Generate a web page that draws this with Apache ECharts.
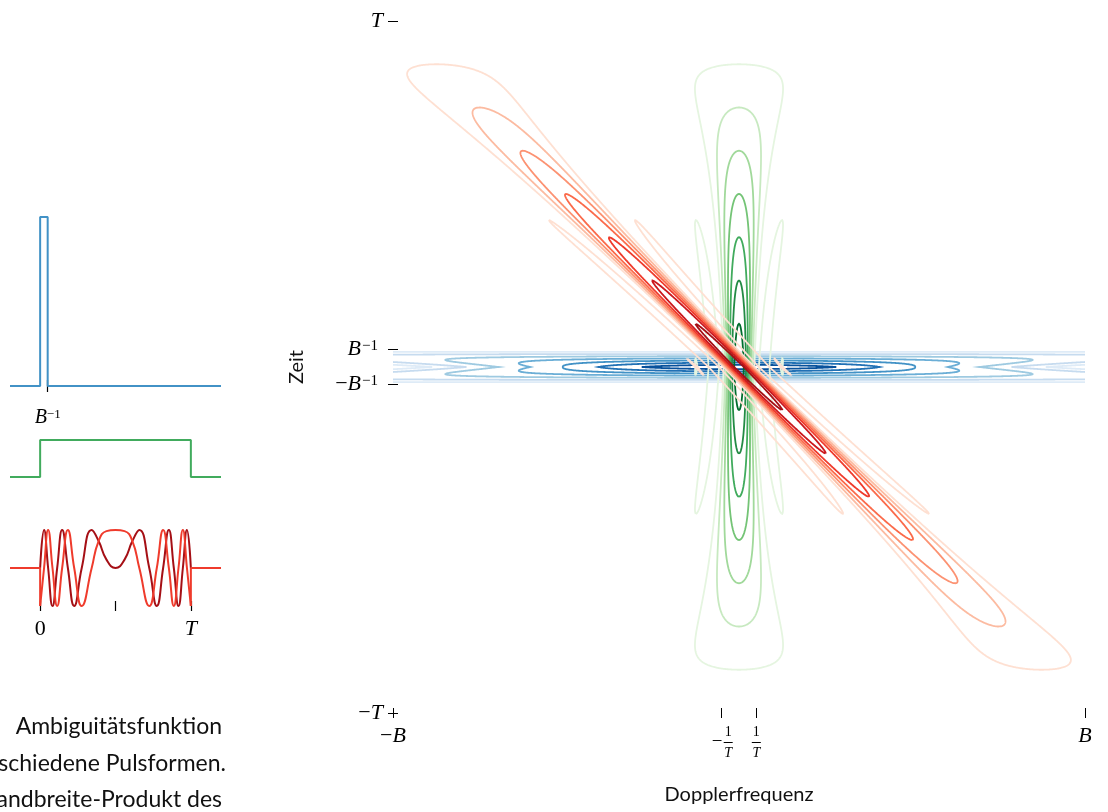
<!DOCTYPE html>
<html>
<head>
<meta charset="utf-8">
<script src="https://cdn.jsdelivr.net/npm/echarts@6/dist/echarts.min.js"></script>
<style>
html, body { margin: 0; padding: 0; background: #fff; }
#chart { width: 1108px; height: 812px; }
</style>
</head>
<body>
<div id="chart"></div>
<script>
// B*T: B lies 20x further out than 1/T on the Doppler axis
const TBP = 20;
const LEVELS = [0.125, 0.25, 0.375, 0.5, 0.625, 0.75, 0.875];
const BLUES = ['#deebf7', '#c6dbef', '#9ecae1', '#6baed6', '#4292c6', '#2171b5', '#08519c'];
const GREENS = ['#e5f5e0', '#c7e9c0', '#a1d99b', '#74c476', '#41ab5d', '#238b45', '#006d2c'];
const REDS = ['#fee0d2', '#fcbba1', '#fc9272', '#fb6a4a', '#ef3b2c', '#cb181d', '#a50f15'];

const DOPPLER_TICKS = [-20, -1, 1, 20];   // -B, -1/T, 1/T, B  (units of 1/T)
const TIME_TICKS = [-1, -0.05, 0.05, 1];  // -T, -1/B, 1/B, T  (units of T)

// pulse shapes (time in units of T)
const SHORT_X = [-0.2, 0, 0, 0.05, 0.05, 1.2];
const SHORT_Y = [0, 0, 4.47, 4.47, 0, 0];
const RECT_X = [-0.2, 0, 0, 1, 1, 1.2];
const RECT_Y = [0, 0, 1, 1, 0, 0];
// chirp: extrema / zero crossings
const CHIRP_U = [0, 0.026, 0.053, 0.082, 0.113, 0.146, 0.184, 0.226, 0.276, 0.342, 0.388, 0.44, 0.5,
  0.56, 0.612, 0.658, 0.724, 0.774, 0.816, 0.854, 0.887, 0.918, 0.947, 0.974, 1];
const CHIRP_RE = [-1, 0, 1, 0, -1, 0, 1, 0, -1, 0, 0.71, 0.97, 1, 0.97, 0.71, 0, -1, 0, 1, 0, -1, 0, 1, 0, -1];
const CHIRP_IM = [0, 1, 0, -1, 0, 1, 0, -1, 0, 1, 0.71, 0.22, 0, 0.22, 0.71, 1, 0, -1, 0, 1, 0, -1, 0, 1, 0];

const MATH = 'Liberation Serif';
const SANS = 'Lato';

function zip(xs, ys) { return xs.map((x, i) => [x, ys[i]]); }

function sinc(x) {
	if (Math.abs(x) < 1e-12) return 1;
	const p = Math.PI * x;
	return Math.sin(p) / p;
}

// |ambiguity| of the three pulses, f = nu*T, t = tau/T
const ambShort = (f, t) => {
	const w = 1 / TBP, a = 1 - Math.abs(t) / w;
	return a <= 0 ? 0 : a * Math.abs(sinc(f * (w - Math.abs(t))));
};
const ambRect = (f, t) => {
	const a = 1 - Math.abs(t);
	return a <= 0 ? 0 : a * Math.abs(sinc(f * a));
};
const ambChirp = (f, t) => {
	const a = 1 - Math.abs(t);
	return a <= 0 ? 0 : a * Math.abs(sinc((f + TBP * t) * a));
};

function steps(a, b, n) {
	const out = [];
	for (let i = 0; i < n; i++) out.push(a + (b - a) * i / (n - 1));
	return out;
}

function sample(fn, xs, ys) {
	const v = new Float64Array(xs.length * ys.length);
	for (let j = 0; j < ys.length; j++)
		for (let i = 0; i < xs.length; i++) v[j * xs.length + i] = fn(xs[i], ys[j]);
	return v;
}

// marching squares, segments chained into polylines
function trace(vals, xs, ys, level) {
	const nx = xs.length, ny = ys.length;
	const adj = new Map();
	const link = (p, q) => {
		if (!adj.has(p)) adj.set(p, []);
		if (!adj.has(q)) adj.set(q, []);
		adj.get(p).push(q);
		adj.get(q).push(p);
	};
	for (let j = 0; j < ny - 1; j++) {
		for (let i = 0; i < nx - 1; i++) {
			const k = j * nx + i;
			const a = vals[k], b = vals[k + 1], c = vals[k + nx + 1], d = vals[k + nx];
			const A = a >= level, B = b >= level, C = c >= level, D = d >= level;
			if (A === B && B === C && C === D) continue;
			const e0 = k * 2, e1 = (k + 1) * 2 + 1, e2 = (k + nx) * 2, e3 = k * 2 + 1;
			const cr = [];
			if (A !== B) cr.push(e0);
			if (B !== C) cr.push(e1);
			if (C !== D) cr.push(e2);
			if (D !== A) cr.push(e3);
			if (cr.length === 2) {
				link(cr[0], cr[1]);
			} else {
				const mid = (a + b + c + d) / 4 >= level;
				if (A === mid) { link(e0, e1); link(e2, e3); }
				else { link(e0, e3); link(e1, e2); }
			}
		}
	}
	const pt = id => {
		const k = id >> 1, i = k % nx, j = (k - i) / nx;
		if ((id & 1) === 0) {
			const s = (level - vals[k]) / (vals[k + 1] - vals[k]);
			return [xs[i] + s * (xs[i + 1] - xs[i]), ys[j]];
		}
		const s = (level - vals[k]) / (vals[k + nx] - vals[k]);
		return [xs[i], ys[j] + s * (ys[j + 1] - ys[j])];
	};
	const walk = start => {
		const pts = [pt(start)];
		let cur = start;
		for (;;) {
			const nb = adj.get(cur);
			if (!nb || !nb.length) break;
			const nxt = nb.pop();
			const back = adj.get(nxt);
			back.splice(back.indexOf(cur), 1);
			pts.push(pt(nxt));
			cur = nxt;
		}
		return pts;
	};
	const lines = [];
	for (const [id, nb] of adj) if (nb.length === 1) lines.push(walk(id));
	for (const [id, nb] of adj) if (nb.length > 0) lines.push(walk(id));
	return lines;
}

const fGrid = steps(-20, 20, 801);
const tGrid = steps(-1, 1, 801);
const tShort = steps(-0.056, 0.056, 113);

const fields = [
	{ vals: sample(ambShort, fGrid, tShort), ys: tShort, colors: BLUES },
	{ vals: sample(ambRect, fGrid, tGrid), ys: tGrid, colors: GREENS },
	{ vals: sample(ambChirp, fGrid, tGrid), ys: tGrid, colors: REDS }
];

const series = [];
fields.forEach(fd => {
	LEVELS.forEach((lv, li) => {
		series.push({
			type: 'lines',
			coordinateSystem: 'cartesian2d',
			xAxisIndex: 0,
			yAxisIndex: 0,
			polyline: true,
			silent: true,
			lineStyle: { color: fd.colors[li], width: 1.8, opacity: 1 },
			data: trace(fd.vals, fGrid, fd.ys, lv).map(c => ({ coords: c }))
		});
	});
});

function pulse(xi, data, color, smooth) {
	return {
		type: 'line', xAxisIndex: xi, yAxisIndex: xi, data: data,
		showSymbol: false, symbol: 'none', clip: false, smooth: smooth || false,
		lineStyle: { color: color, width: 2 }, silent: true
	};
}
series.push(pulse(1, zip(SHORT_X, SHORT_Y), '#4292c6'));
series.push(pulse(2, zip(RECT_X, RECT_Y), '#41ab5d'));
// dark red: imaginary part, light red: real part
series.push(pulse(3, [[-0.2, 0], [0, 0]], '#a50f15'));
series.push(pulse(3, [[1, 0], [1.2, 0]], '#a50f15'));
series.push(pulse(3, zip(CHIRP_U, CHIRP_IM), '#a50f15', 0.5));
series.push(pulse(3, [[-0.2, 0], [0, 0], [0, CHIRP_RE[0]]], '#ef3b2c'));
series.push(pulse(3, [[1, CHIRP_RE[CHIRP_RE.length - 1]], [1, 0], [1.2, 0]], '#ef3b2c'));
series.push(pulse(3, zip(CHIRP_U, CHIRP_RE), '#ef3b2c', 0.5));

const bigRich = {
	it: { fontFamily: MATH, fontStyle: 'italic', fontSize: 22, color: '#000' },
	mi: { fontFamily: MATH, fontSize: 22, color: '#000' },
	sup: { fontFamily: MATH, fontSize: 15, color: '#000', verticalAlign: 'top', lineHeight: 22, padding: [0, 5, 0, 1] },
	sp: { width: 13, height: 14 },
	fm: { fontFamily: MATH, fontSize: 19, color: '#000', width: 13, align: 'right', lineHeight: 7 },
	n: { fontFamily: MATH, fontSize: 14, color: '#000', width: 10, align: 'center', lineHeight: 14 },
	bar: { width: 9, height: 1, backgroundColor: '#000', lineHeight: 7 },
	d: { fontFamily: MATH, fontStyle: 'italic', fontSize: 14, color: '#000', width: 10, align: 'center', lineHeight: 14 }
};

const dopplerLabel = v => {
	if (v === -20) return '{mi|−}{it|B}';
	if (v === 20) return '{it|B}';
	if (v === -1) return '{sp|}{n|1}\n{fm|−}{bar|}\n{sp|}{d|T}';
	return '{n|1}\n{bar|}\n{d|T}';
};
const timeLabel = v => {
	if (v === 1) return '{it|T}';
	if (v === -1) return '{mi|−}{it|T}';
	if (v > 0) return '{it|B}{sup|−1}';
	return '{mi|−}{it|B}{sup|−1}';
};

const hidden = { show: false };
const noLine = { show: false, onZero: false };
function smallX(gi, ticks, labels, fmt, margin, offset, len) {
	return {
		gridIndex: gi, type: 'value', min: -0.2, max: 1.2,
		axisLine: noLine, splitLine: hidden, offset: offset || 0,
		axisTick: ticks ? { show: true, customValues: ticks, length: len, lineStyle: { color: '#000', width: 1.2 } } : hidden,
		axisLabel: labels ? { show: true, customValues: labels, formatter: fmt, margin: margin, rich: {
			it: { fontFamily: MATH, fontStyle: 'italic', fontSize: 22, color: '#000' },
			up: { fontFamily: MATH, fontSize: 22, color: '#000' },
			sb: { fontFamily: MATH, fontStyle: 'italic', fontSize: 20, color: '#000' },
			ss: { fontFamily: MATH, fontSize: 13, color: '#000', verticalAlign: 'top', lineHeight: 20 }
		} } : hidden
	};
}

const capStyle = (text, x, y) => ({
	type: 'text',
	style: { text: text, x: x, y: y, font: '23px Lato', fill: '#111', align: 'right', textAlign: 'right', verticalAlign: 'middle', textVerticalAlign: 'middle' }
});

const option = {
	animation: false,
	backgroundColor: '#fff',
	grid: [
		{ left: 393, top: 21, width: 692, height: 692 },
		{ left: 10, top: 217, width: 211, height: 169 },
		{ left: 10, top: 440, width: 211, height: 37 },
		{ left: 10, top: 530, width: 211, height: 76 }
	],
	xAxis: [
		{
			gridIndex: 0, type: 'value', min: -20, max: 20, offset: -5,
			axisLine: noLine, splitLine: hidden,
			axisTick: { show: true, customValues: DOPPLER_TICKS, length: 10, lineStyle: { color: '#000', width: 1 } },
			axisLabel: { show: true, customValues: DOPPLER_TICKS, formatter: dopplerLabel, margin: 17, rich: bigRich },
			name: 'Dopplerfrequenz', nameLocation: 'middle', nameGap: 77,
			nameTextStyle: { fontFamily: SANS, fontSize: 20, color: '#111' }
		},
		smallX(1, [0.05], [0.05], () => '{sb|B}{ss|−1}', 28, -6, 12),
		smallX(2),
		smallX(3, [0, 0.5, 1], [0, 1], v => v === 0 ? '{up|0}' : '{it|T}', 17, -5, 10)
	],
	yAxis: [
		{
			gridIndex: 0, type: 'value', min: -1, max: 1, offset: -5,
			axisLine: noLine, splitLine: hidden,
			axisTick: { show: true, customValues: TIME_TICKS, length: 10, lineStyle: { color: '#000', width: 1 } },
			axisLabel: { show: true, customValues: TIME_TICKS, formatter: timeLabel, margin: 15, rich: bigRich },
			name: 'Zeit', nameLocation: 'middle', nameGap: 91, nameRotate: 90,
			nameTextStyle: { fontFamily: SANS, fontSize: 20, color: '#111' }
		},
		{ gridIndex: 1, type: 'value', min: 0, max: 4.47, show: false },
		{ gridIndex: 2, type: 'value', min: 0, max: 1, show: false },
		{ gridIndex: 3, type: 'value', min: -1, max: 1, show: false }
	],
	graphic: [
		capStyle('Ambiguitätsfunktion', 222, 727),
		capStyle('verschiedene Pulsformen.', 226, 764),
		capStyle('Bandbreite-Produkt des', 222, 800)
	],
	series: series
};

const chart = echarts.init(document.getElementById('chart'));
chart.setOption(option);
</script>
</body>
</html>
